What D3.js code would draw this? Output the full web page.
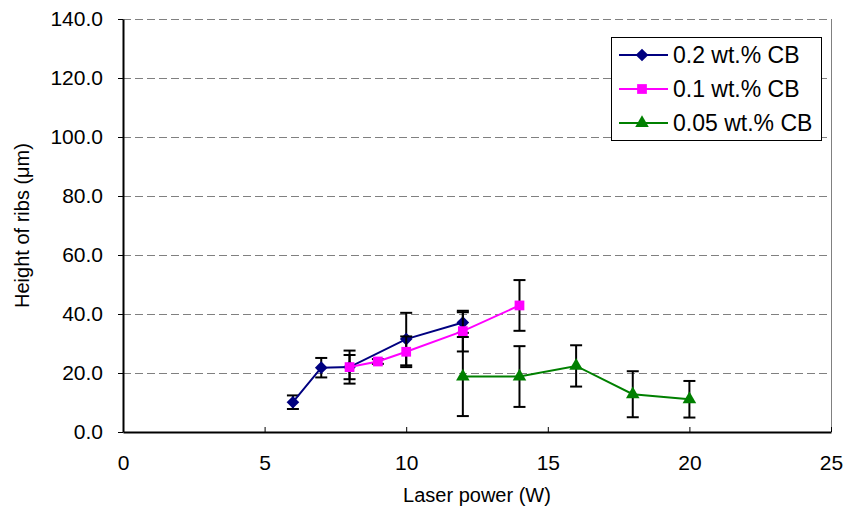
<!DOCTYPE html>
<html>
<head>
<meta charset="utf-8">
<script src="https://cdn.jsdelivr.net/npm/d3@7"></script>
<style>
  body { margin: 0; background: #fff; }
  text { font-family: "Liberation Sans", Arial, sans-serif; fill: #000; }
  .axis path, .axis line { stroke: #000; }
  .grid line { stroke: #808080; stroke-dasharray: 8 4; }
</style>
</head>
<body>
<div id="chart"></div>
<script>
// data
const seriesNames = ['0.2 wt.% CB', '0.1 wt.% CB', '0.05 wt.% CB'];

const power02 = [6, 7, 8, 10, 12];
const height02 = [10.1, 21.8, 22.0, 31.5, 37.1];
const err02 = [2.3, 3.3, 5.6, 8.9, 3.5];

const power01 = [8, 9, 10, 12, 14];
const height01 = [22.0, 23.9, 27.2, 34.2, 42.9];
const err01 = [4.1, 0.8, 5.2, 6.9, 8.6];

const power005 = [12, 14, 16, 18, 20];
const height005 = [18.8, 18.8, 22.4, 12.8, 11.1];
const err005 = [13.4, 10.3, 7.0, 7.8, 6.2];

const xTicks = [0, 5, 10, 15, 20, 25];
const yTicks = [0, 20, 40, 60, 80, 100, 120, 140];

// square turned 45 degrees, like the spreadsheet diamond marker
const squareDiamond = {
  draw(context, size) {
    const h = Math.sqrt(size / 2);
    context.moveTo(0, -h);
    context.lineTo(h, 0);
    context.lineTo(0, h);
    context.lineTo(-h, 0);
    context.closePath();
  }
};

const colors = ['#000080', '#FF00FF', '#008000'];
const shapes = [squareDiamond, d3.symbolSquare, d3.symbolTriangle];
const symbolSizes = [80, 95, 80];

const series = [
  {name: seriesNames[0], xs: power02, ys: height02, errs: err02},
  {name: seriesNames[1], xs: power01, ys: height01, errs: err01},
  {name: seriesNames[2], xs: power005, ys: height005, errs: err005}
].map((s, i) => ({
  ...s,
  color: colors[i],
  shape: shapes[i],
  size: symbolSizes[i],
  points: s.xs.map((x, j) => ({x: x, y: s.ys[j], e: s.errs[j]}))
}));

const containerWidth = 847, containerHeight = 512;
const margin = {top: 19, right: 16, bottom: 80, left: 123};
const width = containerWidth - margin.left - margin.right;
const height = containerHeight - margin.top - margin.bottom;

const svg = d3.select('#chart').append('svg')
  .attr('width', containerWidth)
  .attr('height', containerHeight);

const chart = svg.append('g')
  .attr('transform', `translate(${margin.left},${margin.top})`);

const xScale = d3.scaleLinear().domain([0, 25]).range([0, width]);
const yScale = d3.scaleLinear().domain([0, 140]).range([height, 0]);

// dashed gridlines
chart.append('g')
  .attr('class', 'grid')
  .selectAll('line')
  .data(yTicks.filter(d => d > 0))
  .join('line')
  .attr('x1', 0)
  .attr('x2', width)
  .attr('y1', d => Math.round(yScale(d)) + 0.5)
  .attr('y2', d => Math.round(yScale(d)) + 0.5);

// thin grey right edge of the plot area
chart.append('line')
  .attr('x1', width + 0.5).attr('x2', width + 0.5)
  .attr('y1', 0).attr('y2', height)
  .attr('stroke', '#808080');

// axes
const xAxis = d3.axisBottom(xScale)
  .tickValues(xTicks)
  .tickSizeInner(-5)
  .tickSizeOuter(0)
  .tickPadding(23)
  .tickFormat(d3.format('d'));

const yAxis = d3.axisLeft(yScale)
  .tickValues(yTicks)
  .tickSizeInner(5)
  .tickSizeOuter(0)
  .tickPadding(15)
  .tickFormat(d3.format('.1f'));

chart.append('g')
  .attr('class', 'axis x-axis')
  .attr('transform', `translate(0,${height})`)
  .call(xAxis)
  .call(g => g.selectAll('text').attr('font-size', 21))
  .call(g => g.select('.domain').attr('stroke-width', 2));

chart.append('g')
  .attr('class', 'axis y-axis')
  .call(yAxis)
  .call(g => g.selectAll('text').attr('font-size', 21))
  .call(g => g.select('.domain').attr('stroke-width', 2));

// axis titles
svg.append('text')
  .attr('text-anchor', 'middle')
  .attr('x', margin.left + width / 2)
  .attr('y', 502)
  .attr('font-size', 20)
  .text('Laser power (W)');

svg.append('text')
  .attr('text-anchor', 'middle')
  .attr('transform', `translate(29,${margin.top + height / 2}) rotate(-90)`)
  .attr('font-size', 20)
  .text('Height of ribs (μm)');

// series: error bars, line, markers
const line = d3.line()
  .x(d => xScale(d.x))
  .y(d => yScale(d.y));

series.forEach(s => {
  const g = chart.append('g').attr('class', 'series');

  const eb = g.selectAll('.err')
    .data(s.points)
    .join('g')
    .attr('class', 'err')
    .attr('stroke', '#000')
    .attr('stroke-width', 2);

  eb.append('line')
    .attr('x1', d => xScale(d.x)).attr('x2', d => xScale(d.x))
    .attr('y1', d => yScale(d.y - d.e)).attr('y2', d => yScale(d.y + d.e));
  eb.append('line')
    .attr('x1', d => xScale(d.x) - 6).attr('x2', d => xScale(d.x) + 6)
    .attr('y1', d => yScale(d.y + d.e)).attr('y2', d => yScale(d.y + d.e));
  eb.append('line')
    .attr('x1', d => xScale(d.x) - 6).attr('x2', d => xScale(d.x) + 6)
    .attr('y1', d => yScale(d.y - d.e)).attr('y2', d => yScale(d.y - d.e));

  g.append('path')
    .datum(s.points)
    .attr('fill', 'none')
    .attr('stroke', s.color)
    .attr('stroke-width', 2)
    .attr('d', line);

  g.selectAll('.point')
    .data(s.points)
    .join('path')
    .attr('class', 'point')
    .attr('fill', s.color)
    .attr('transform', d => `translate(${xScale(d.x)},${yScale(d.y)})`)
    .attr('d', d3.symbol(s.shape, s.size));
});

// legend
const legend = svg.append('g')
  .attr('transform', 'translate(611,37)');

legend.append('rect')
  .attr('x', 0.5).attr('y', 0.5)
  .attr('width', 210).attr('height', 103)
  .attr('fill', '#fff')
  .attr('stroke', '#000');

const item = legend.selectAll('.legend-item')
  .data(series)
  .join('g')
  .attr('class', 'legend-item')
  .attr('transform', (d, i) => `translate(0,${18 + i * 34})`);

item.append('line')
  .attr('x1', 8).attr('x2', 57)
  .attr('stroke', d => d.color)
  .attr('stroke-width', 2);

item.append('path')
  .attr('transform', 'translate(31,0)')
  .attr('fill', d => d.color)
  .attr('d', d => d3.symbol(d.shape, d.size)());

item.append('text')
  .attr('x', 62)
  .attr('dy', '0.36em')
  .attr('font-size', 23)
  .text(d => d.name);
</script>
</body>
</html>
